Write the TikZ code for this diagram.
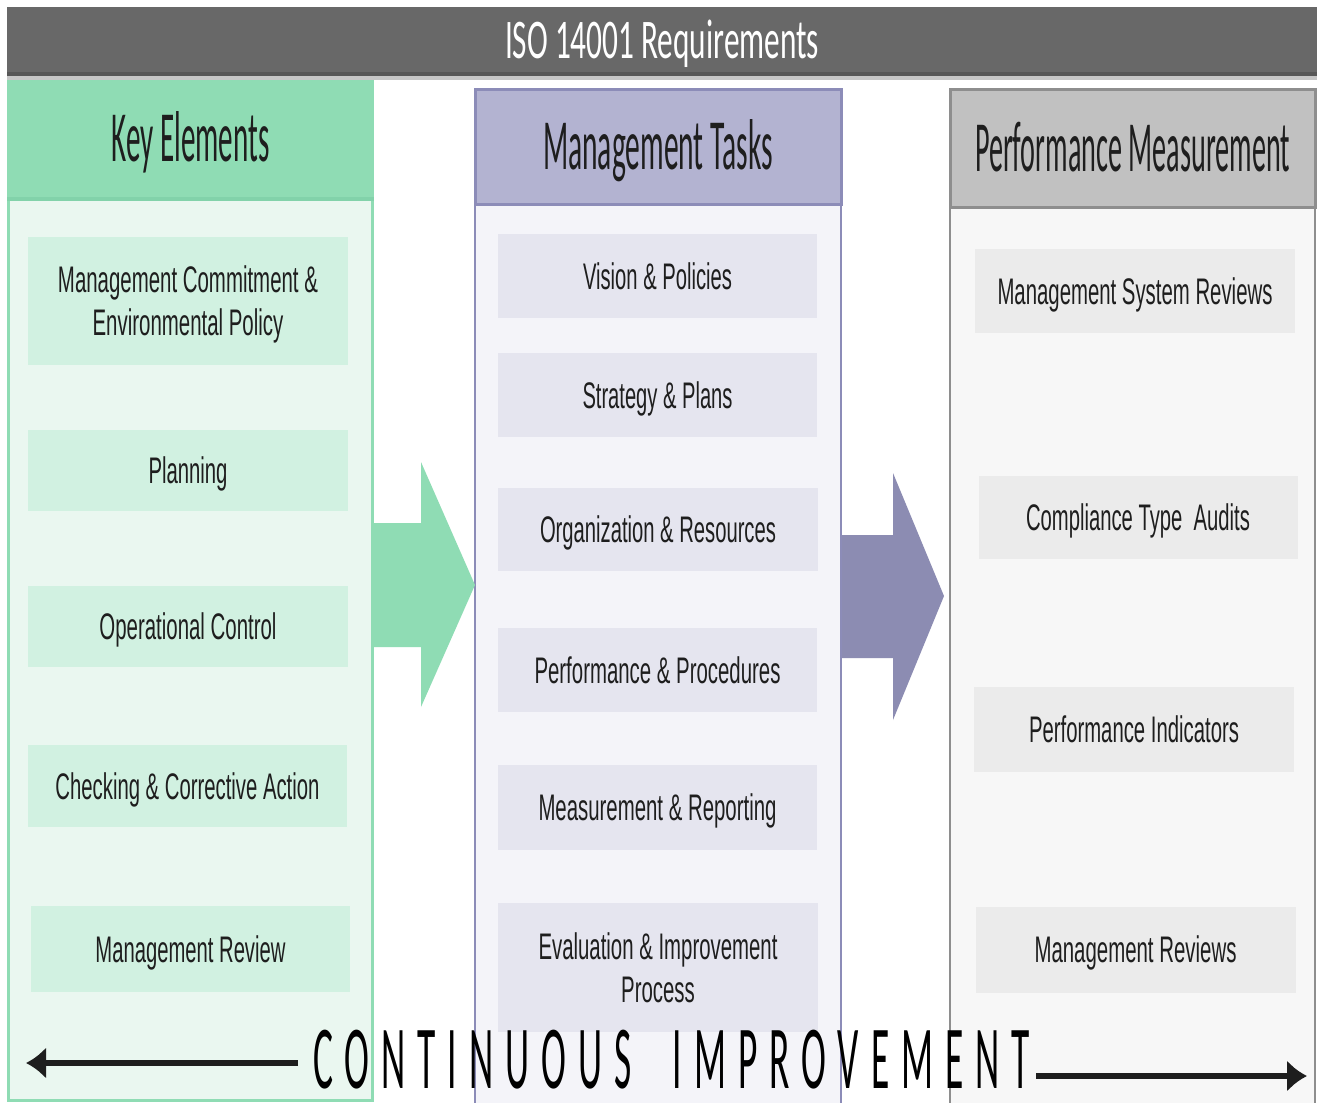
\documentclass[tikz,border=0pt]{standalone}
\usepackage{fontspec}
\usepackage{graphicx}
\usetikzlibrary{arrows.meta}
\newfontfamily\hfont{Carlito}
\newfontfamily\ifont{Liberation Sans}
\newcommand\fw[2]{\resizebox{#1pt}{\height}{#2}}
\definecolor{bannerc}{HTML}{686868}
\definecolor{bannerdark}{HTML}{575757}
\definecolor{bannerlight}{HTML}{C6C6C6}
\definecolor{kheadc}{HTML}{8FDCB4}
\definecolor{kheaddark}{HTML}{82D2AA}
\definecolor{kbodyc}{HTML}{EAF7F0}
\definecolor{kitemc}{HTML}{D1F1E1}
\definecolor{mheadc}{HTML}{B3B3D1}
\definecolor{mborder}{HTML}{8C8CB8}
\definecolor{mbodyc}{HTML}{F4F4F9}
\definecolor{mitemc}{HTML}{E5E5EF}
\definecolor{pheadc}{HTML}{C1C1C1}
\definecolor{pborder}{HTML}{8E8E8E}
\definecolor{pbodyc}{HTML}{F7F7F7}
\definecolor{pitemc}{HTML}{EBEBEB}
\definecolor{arrg}{HTML}{8FDCB4}
\definecolor{arrp}{HTML}{8C8CB2}
\definecolor{textc}{HTML}{1E1E1E}
\begin{document}
\begin{tikzpicture}[x=1pt,y=-1pt,
  panel/.style={rectangle, inner sep=0pt, outer sep=0pt},
  itm/.style={panel, text=textc, font=\ifont\fontsize{37}{43}\selectfont, text height=26pt, text depth=0pt},
  itmtwo/.style={itm, text height=69pt},
  kitem/.style={itm, fill=kitemc},
  mitem/.style={itm, fill=mitemc},
  pitem/.style={itm, fill=pitemc},
  hdr/.style={panel, text=textc, font=\hfont\fontsize{72}{80}\selectfont, text height=46pt, text depth=0pt},
  ciarr/.style={draw=textc, line width=6pt, -{Latex[length=20pt,width=32pt]}}
]
\useasboundingbox (0,0) rectangle (1320,1103);
\fill[white] (0,0) rectangle (1320,1103);

% banner
\node[panel, fill=bannerc, minimum width=1310pt, minimum height=67pt, text=white,
      font=\hfont\fontsize{56}{60}\selectfont, text height=36pt, text depth=0pt] (banner) at (662,40.5)
      {\fw{314}{ISO 14001 Requirements}};
\fill[bannerdark] (7,72) rectangle (1317,76);
\fill[bannerlight] (7,76) rectangle (1317,80);

% column bodies
\node[panel, fill=kbodyc, draw=kheadc, line width=3pt, minimum width=364pt, minimum height=903pt] (kb) at (190.5,648.5) {};
\node[panel, fill=mbodyc, draw=mborder, line width=2pt, minimum width=366pt, minimum height=905pt] (mb) at (658,657.5) {};
\node[panel, fill=pbodyc, draw=pborder, line width=2pt, minimum width=365pt, minimum height=902pt] (pb) at (1132.5,659) {};

% headers
\node[hdr, fill=kheadc, minimum width=367pt, minimum height=117pt] (kh) at (190.5,138.5) {\fw{158}{Key Elements}};
\draw[kheaddark, line width=4pt] ([yshift=-2pt]kh.south west) -- ([yshift=-2pt]kh.south east);
\node[hdr, fill=mheadc, draw=mborder, line width=3pt, minimum width=366pt, minimum height=115pt] (mh) at (658,146.5) {\fw{230}{Management Tasks}};
\node[hdr, fill=pheadc, draw=pborder, line width=3pt, minimum width=365pt, minimum height=118pt] (ph) at (1132.5,148) {\fw{315}{Performance Measurement}};

% key elements items
\node[kitem, itmtwo, minimum width=320pt, minimum height=128pt] (k1) at (188,301)
  {\fw{260}{\begin{tabular}[b]{@{}c@{}}Management Commitment \&\\Environmental Policy\end{tabular}}};
\node[kitem, minimum width=320pt, minimum height=81pt] (k2) at (188,470.5) {\fw{79}{Planning}};
\node[kitem, minimum width=320pt, minimum height=81pt] (k3) at (188,626.5) {\fw{177}{Operational Control}};
\node[kitem, minimum width=319pt, minimum height=82pt] (k4) at (187.5,786) {\fw{264}{Checking \& Corrective Action}};
\node[kitem, minimum width=319pt, minimum height=86pt] (k5) at (190.5,949) {\fw{190}{Management Review}};

% management tasks items
\node[mitem, minimum width=319pt, minimum height=84pt] (m1) at (657.5,276) {\fw{149}{Vision \& Policies}};
\node[mitem, minimum width=319pt, minimum height=84pt] (m2) at (657.5,395) {\fw{150}{Strategy \& Plans}};
\node[mitem, minimum width=320pt, minimum height=83pt] (m3) at (658,529.5) {\fw{236}{Organization \& Resources}};
\node[mitem, minimum width=319pt, minimum height=84pt] (m4) at (657.5,670) {\fw{246}{Performance \& Procedures}};
\node[mitem, minimum width=319pt, minimum height=85pt] (m5) at (657.5,807.5) {\fw{238}{Measurement \& Reporting}};
\node[mitem, itmtwo, minimum width=320pt, minimum height=129pt] (m6) at (658,967.5)
  {\fw{239}{\begin{tabular}[b]{@{}c@{}}Evaluation \& Improvement\\Process\end{tabular}}};

% performance measurement items
\node[pitem, minimum width=320pt, minimum height=84pt] (p1) at (1135,291) {\fw{275}{Management System Reviews}};
\node[pitem, minimum width=319pt, minimum height=83pt] (p2) at (1138,517.5) {\fw{224}{Compliance Type\ \ Audits}};
\node[pitem, minimum width=320pt, minimum height=85pt] (p3) at (1134,729.5) {\fw{210}{Performance Indicators}};
\node[pitem, minimum width=320pt, minimum height=86pt] (p4) at (1135.5,949.5) {\fw{202}{Management Reviews}};

% block arrows between columns
\fill[arrg] (374,523) -- (421,523) -- (421,462) -- (475,585) -- (421,707) -- (421,647) -- (374,647) -- cycle;
\fill[arrp] (842,535) -- (893,535) -- (893,473) -- (944,596) -- (893,720) -- (893,658) -- (842,658) -- cycle;

% continuous improvement
\node[panel, text=black, font=\hfont\fontsize{90}{90}\selectfont\addfontfeature{LetterSpace=32},
      text height=58pt, text depth=0pt] (ci) at (671.5,1059)
      {\fw{717}{CONTINUOUS\hspace{100pt}IMPROVEMENT}};
\coordinate (lstart) at (298,1063);
\coordinate (lend) at (26,1063);
\coordinate (rstart) at (1036,1076);
\coordinate (rend) at (1307,1076);
\draw[ciarr] (lstart) -- (lend);
\draw[ciarr] (rstart) -- (rend);
\end{tikzpicture}
\end{document}
